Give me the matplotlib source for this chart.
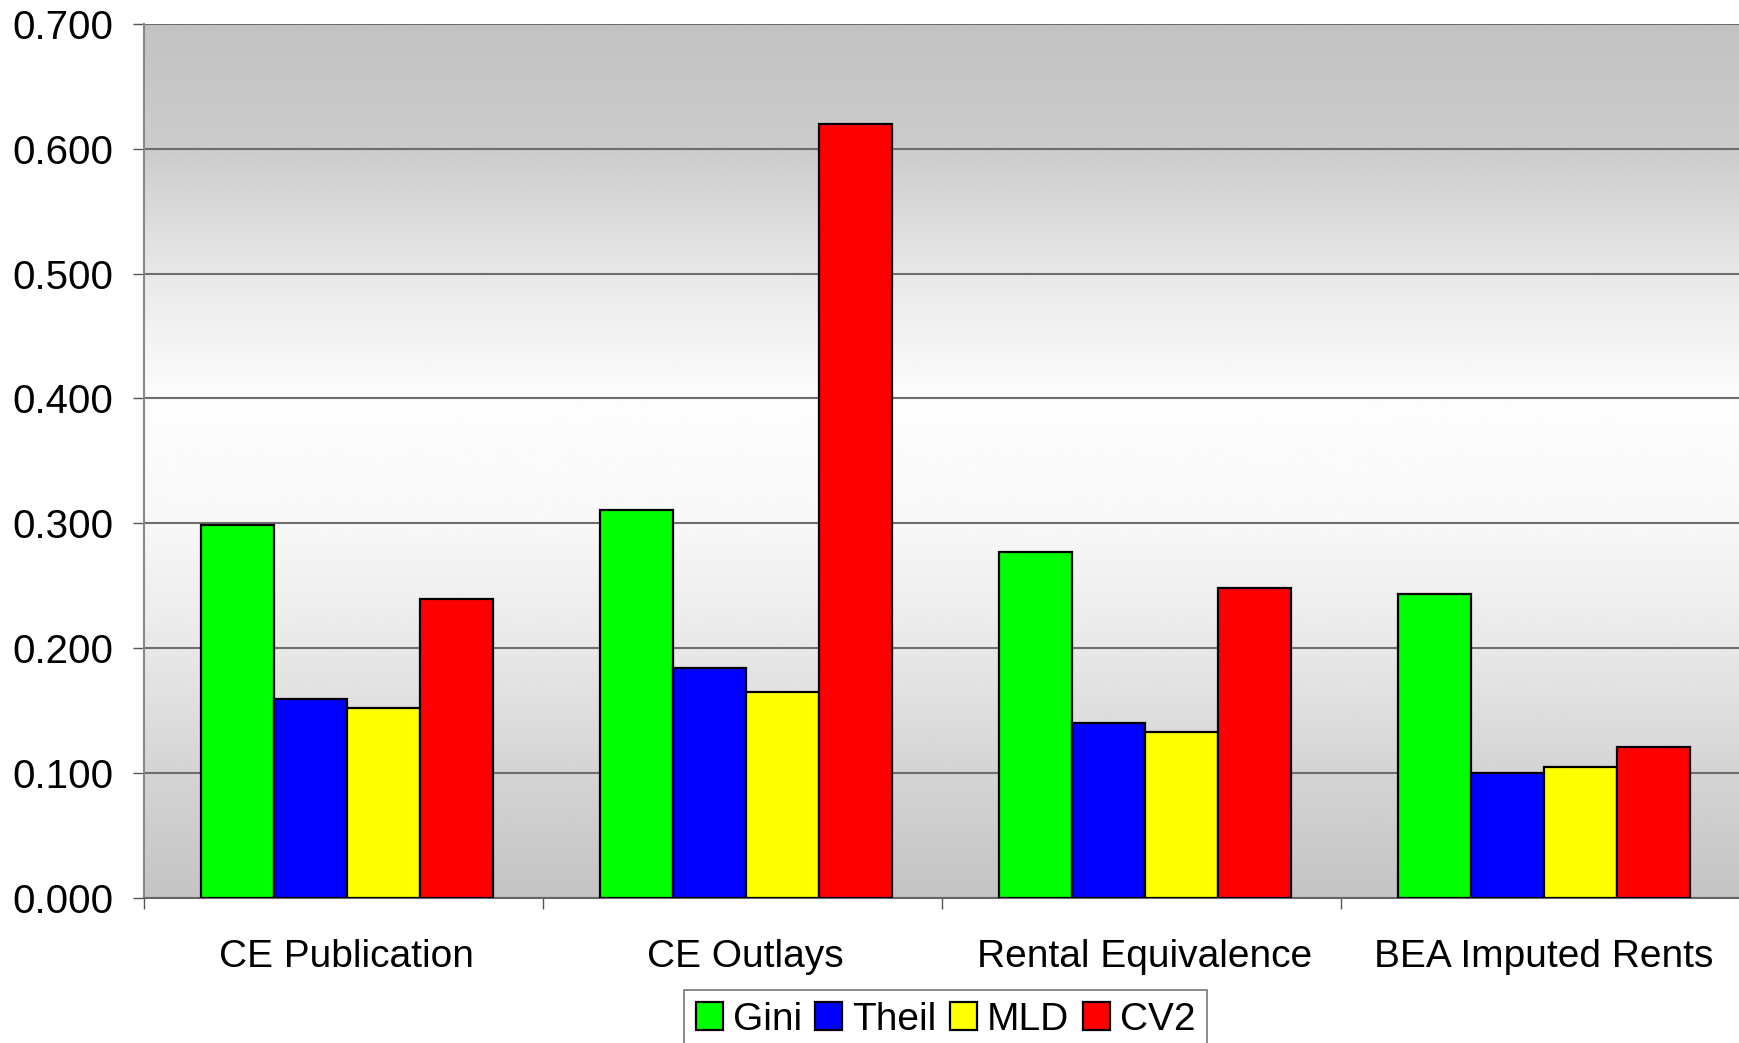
import numpy as np
import matplotlib.pyplot as plt

categories = ['CE Publication', 'CE Outlays', 'Rental Equivalence', 'BEA Imputed Rents']
series = ['Gini', 'Theil', 'MLD', 'CV2']
gini = [0.299, 0.311, 0.277, 0.243]
theil = [0.159, 0.184, 0.140, 0.100]
mld = [0.152, 0.165, 0.133, 0.105]
cv2 = [0.239, 0.620, 0.248, 0.121]
colors = ['#00ff00', '#0000ff', '#ffff00', '#ff0000']

plt.rcParams['font.family'] = ['Liberation Sans', 'DejaVu Sans']

fig = plt.figure(figsize=(17.4, 10.43), dpi=100)
ax = fig.add_axes([144/1740, 1 - 897.7/1043, 1 - 144/1740, (897.7 - 24)/1043])

# background gradient (grey - white - grey)
stops_y = [0.0, 0.1, 0.2, 0.3, 0.4, 0.5, 0.6, 0.7]
stops_v = [0xc4, 0xd4, 0xe8, 0xf8, 0xfd, 0xe8, 0xcc, 0xc2]
yy = np.linspace(0, 0.7, 300)
vv = np.interp(yy, stops_y, stops_v) / 255.0
img = np.repeat(vv[:, None], 2, axis=1)
ax.imshow(img, cmap='gray', vmin=0, vmax=1, origin='lower', aspect='auto',
          extent=[0, 4, 0, 0.7], zorder=0, interpolation='bilinear')

x = np.arange(len(categories)) + 0.5
w = 0.183
data = [gini, theil, mld, cv2]
for i, (name, vals) in enumerate(zip(series, data)):
    ax.bar(x + (i - 1.5) * w + 0.008, vals, w, color=colors[i], edgecolor='black',
           linewidth=1.6, label=name, zorder=3)

ax.set_xlim(0, 4)
ax.set_ylim(0, 0.7)
ax.set_yticks(np.arange(0, 0.71, 0.1))
ax.set_yticklabels(['%.3f' % v for v in np.arange(0, 0.71, 0.1)])
ax.yaxis.grid(True, color='#6e6e6e', linewidth=1.5, zorder=1)
ax.set_axisbelow(True)

ax.set_xticks(x + 0.008)
ax.set_xticklabels(categories)
ax.set_xticks([0, 1, 2, 3, 4], minor=True)
ax.tick_params(axis='x', which='major', length=0, pad=30, labelsize=28)
ax.tick_params(axis='x', which='minor', length=8, width=1, color='#555555', direction='out')
ax.tick_params(axis='y', length=8, width=1, color='#555555', pad=14, labelsize=29)

for s in ['top', 'right']:
    ax.spines[s].set_visible(False)
ax.spines['left'].set_color('#888888')
ax.spines['bottom'].set_color('#666666')
ax.spines['left'].set_linewidth(1.5)
ax.spines['bottom'].set_linewidth(1.5)

leg = fig.legend(loc='upper center', bbox_to_anchor=(945.5/1740, 1 - 990/1043), ncol=4,
                 fontsize=28, frameon=True, fancybox=False, edgecolor='#555555',
                 handlelength=0.7, handleheight=0.7, handletextpad=0.25,
                 columnspacing=0.35, borderpad=0.3, borderaxespad=0)
leg.get_frame().set_linewidth(1.2)

fig.savefig('out.png', dpi=100)
